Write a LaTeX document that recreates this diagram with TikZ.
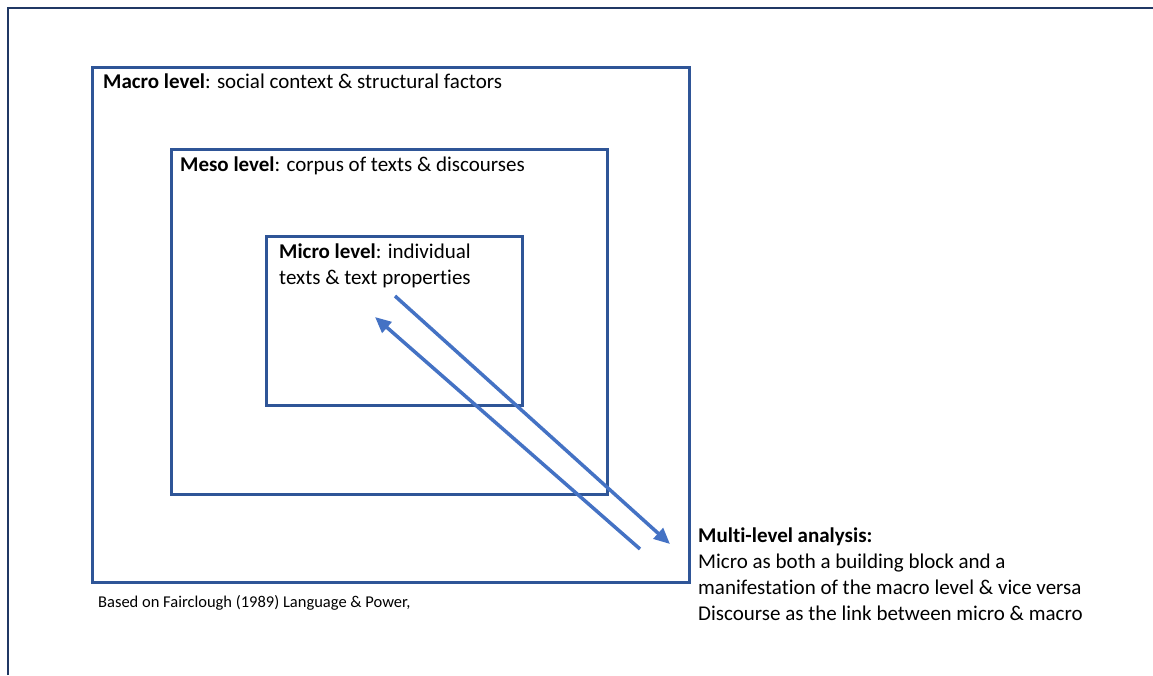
\documentclass[tikz,border=0pt]{standalone}
\usepackage{fontspec}
\setmainfont{Carlito}[Ligatures=CommonOff]
\usetikzlibrary{arrows.meta}
\definecolor{boxblue}{HTML}{2F5597}
\definecolor{arrowblue}{HTML}{4472C4}
\definecolor{framenavy}{HTML}{203864}
\tikzset{
  levelbox/.style={draw=boxblue, line width=3.2pt, inner sep=0pt, anchor=north west},
  levellabel/.style={anchor=base west, inner sep=0pt, align=left, font=\fontsize{21}{25.7}\selectfont},
  linkarrow/.style={draw=arrowblue, line width=3.5pt, -{Triangle[length=16pt,width=14pt]}}
}
\begin{document}
\begin{tikzpicture}[x=1pt,y=-1pt]
\useasboundingbox (0,0) rectangle (1153,675);
% page frame
\draw[framenavy, line width=1.5pt] (8,675) -- (8,8) -- (1153,8);

% the three nested levels
\node[levelbox, minimum width=597pt, minimum height=515pt] (macro) at (91,66) {};
\node[levelbox, minimum width=436pt, minimum height=345pt] (meso) at (170,148) {};
\node[levelbox, minimum width=256pt, minimum height=169pt] (micro) at (265,235) {};

% labels (base = last line)
\node[levellabel] (macrotxt) at (103,88) {\textbf{Macro level}: social context \& structural factors};
\node[levellabel] (mesotxt) at (180,171) {\textbf{Meso level}: corpus of texts \& discourses};
\node[levellabel] (microtxt) at (279,284) {\textbf{Micro level}: individual\\texts \& text properties};

% links between micro and macro
\coordinate (downstart) at (395,296);
\coordinate (downend) at (670,544);
\coordinate (upstart) at (640,549);
\coordinate (upend) at (375,317);
\draw[linkarrow] (downstart) -- (downend);
\draw[linkarrow] (upstart) -- (upend);

\node[levellabel] (multitxt) at (698,620)
  {\textbf{Multi-level analysis:}\\Micro as both a building block and a\\manifestation of the macro level \& vice versa\\Discourse as the link between micro \& macro};
\node[levellabel, font=\fontsize{16.5}{20}\selectfont] (source) at (98,607) {Based on Fairclough (1989) Language \& Power,};
\end{tikzpicture}
\end{document}
